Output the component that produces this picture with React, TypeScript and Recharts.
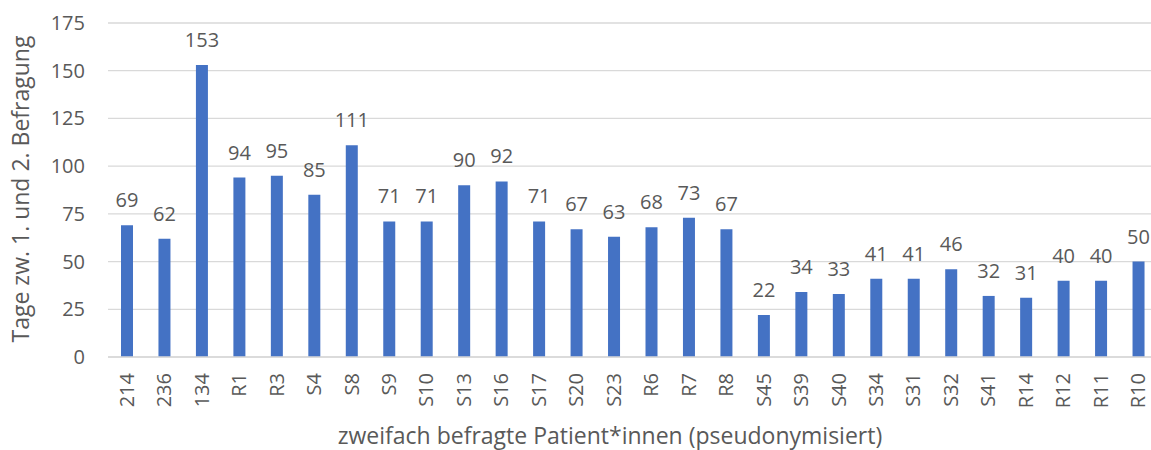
import React from 'react';
import { BarChart, Bar, XAxis, YAxis, CartesianGrid, LabelList } from 'recharts';

const PATIENTS = ['214', '236', '134', 'R1', 'R3', 'S4', 'S8', 'S9', 'S10', 'S13', 'S16', 'S17', 'S20', 'S23', 'R6', 'R7', 'R8', 'S45', 'S39', 'S40', 'S34', 'S31', 'S32', 'S41', 'R14', 'R12', 'R11', 'R10'];
const DAYS = [69, 62, 153, 94, 95, 85, 111, 71, 71, 90, 92, 71, 67, 63, 68, 73, 67, 22, 34, 33, 41, 41, 46, 32, 31, 40, 40, 50];
const Y_TICKS = [0, 25, 50, 75, 100, 125, 150, 175];

const data = PATIENTS.map((name, i) => ({ name, days: DAYS[i] }));

const FONT = '"Open Sans", sans-serif';
const TEXT = '#595959';

const YTick = (props: any) => {
  const { y, payload } = props;
  return (
    <text x={85} y={y + 7} textAnchor="end" fill={TEXT} fontSize={20} fontFamily={FONT}>
      {payload.value}
    </text>
  );
};

const XTick = (props: any) => {
  const { x, payload } = props;
  return (
    <text
      x={x + 7}
      y={373}
      textAnchor="end"
      fill={TEXT}
      fontSize={20}
      fontFamily={FONT}
      transform={`rotate(-90, ${x + 7}, 373)`}
    >
      {payload.value}
    </text>
  );
};

const ValueLabel = (props: any) => {
  const { x, y, width, value } = props;
  return (
    <text x={x + width / 2} y={y - 18} textAnchor="middle" fill={TEXT} fontSize={20} fontFamily={FONT}>
      {value}
    </text>
  );
};

const YTitle = () => (
  <text
    x={29}
    y={189}
    textAnchor="middle"
    fill={TEXT}
    fontSize={23}
    fontFamily={FONT}
    transform="rotate(-90, 29, 189)"
  >
    Tage zw. 1. und 2. Befragung
  </text>
);

const XTitle = () => (
  <text x={610} y={444} textAnchor="middle" fill={TEXT} fontSize={23} fontFamily={FONT}>
    zweifach befragte Patient*innen (pseudonymisiert)
  </text>
);

export default function App() {
  return (
    <div style={{ position: 'fixed', left: 0, top: 0, width: 1151, height: 450, overflow: 'hidden', background: '#fff' }}>
      <BarChart width={1170} height={450} data={data} margin={{ top: 23, right: 13, left: 0, bottom: 0 }}>
        <CartesianGrid vertical={false} stroke="#d9d9d9" strokeWidth={1.3} />
        <XAxis
          dataKey="name"
          interval={0}
          height={93}
          tickLine={false}
          axisLine={{ stroke: '#d9d9d9', strokeWidth: 1.3 }}
          tick={<XTick />}
          label={<XTitle />}
        />
        <YAxis
          domain={[0, 175]}
          ticks={Y_TICKS}
          width={108}
          axisLine={false}
          tickLine={false}
          tick={<YTick />}
          label={<YTitle />}
        />
        <Bar dataKey="days" fill="#4472C4" barSize={12} isAnimationActive={false}>
          <LabelList dataKey="days" content={<ValueLabel />} />
        </Bar>
      </BarChart>
    </div>
  );
}
